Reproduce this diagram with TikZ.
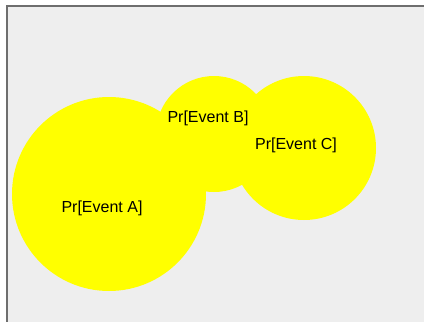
\documentclass[tikz,border=0pt]{standalone}
\usepackage{fontspec}
\setmainfont{Liberation Sans}
\usepackage{xcolor}
\usepackage{tikz}
\usetikzlibrary{positioning}

\definecolor{panelgray}{RGB}{238,238,238}
\definecolor{framegray}{RGB}{110,110,110}
\definecolor{eventyellow}{RGB}{255,255,0}

\begin{document}
\begin{tikzpicture}[x=1pt, y=-1pt]
        % Stijlen
        \tikzstyle{event} = [circle, fill=eventyellow, inner sep=0pt]
        \tikzstyle{label} = [font=\fontsize{16}{18}\selectfont, text=black, inner sep=0pt]

        \useasboundingbox (0,0) rectangle (424,322);

        % Achtergrond en kader
        \fill[panelgray] (6.5,5.5) rectangle (424,322);
        \draw[framegray, line width=2pt] (6.5,322) -- (6.5,5.5) -- (424,5.5);

        % Cirkels
        \node (evA) [event, minimum size=194pt] at (109,194) {};
        \node (evB) [event, minimum size=116pt] at (214,134) {};
        \node (evC) [event, minimum size=144pt] at (304,148) {};

        % Teksten
        \node (labA) [label] at (102,208) {Pr[Event A]};
        \node (labB) [label] at (208,118) {Pr[Event B]};
        \node (labC) [label] at (296,145) {Pr[Event C]};
\end{tikzpicture}
\end{document}
